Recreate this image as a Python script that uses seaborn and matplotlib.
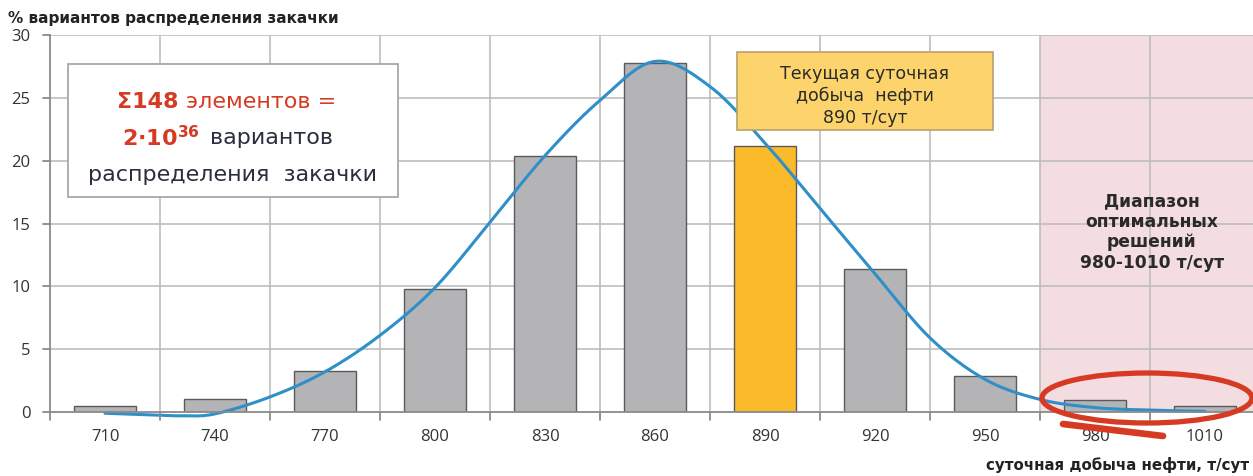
import numpy as np
import matplotlib
matplotlib.use("Agg")
import matplotlib.pyplot as plt
import seaborn as sns
import pandas as pd
from matplotlib.patches import Rectangle, Ellipse

# ---------------- data ----------------
categories = ["710", "740", "770", "800", "830", "860", "890", "920", "950", "980", "1010"]
shares = [0.5, 1.0, 3.3, 9.8, 20.4, 27.8, 21.2, 11.4, 2.9, 0.95, 0.45]
highlight = "890"

# fitted curve (position in category index, value %)
curve_pos = [0, 0.5, 0.7, 1, 1.5, 2, 2.5, 3, 3.5, 4, 4.5, 5, 5.5, 6, 6.5, 7, 7.5, 8, 8.5, 9, 9.5, 10]
curve_val = [-0.1, -0.25, -0.3, -0.15, 1.2, 3.2, 6.1, 9.9, 15.1, 20.4, 24.8, 27.9, 25.9, 21.4, 16.2, 11.0, 5.9, 2.6, 1.0, 0.35, 0.15, 0.05]

yticks = [0, 5, 10, 15, 20, 25, 30]
ylabel = "% вариантов распределения закачки"
xlabel = "суточная добыча нефти, т/сут"
opt_range = (9, 10)  # indices of optimal range categories

# ---------------- style ----------------
sns.set_theme(style="white")
plt.rcParams['font.family'] = ['DejaVu Sans']

GRAY = "#B4B4B7"
ORANGE = "#FBBA2A"
BLUE = "#2F8FC8"
RED = "#D63A22"
DARK = "#2A2F3E"
GRID = "#BDBDBD"

W, H = 1253, 476
fig = plt.figure(figsize=(W / 100, H / 100), dpi=100)
ax = fig.add_axes([50 / W, 1 - 412 / H, 1210 / W, (412 - 35) / H])

df = pd.DataFrame({"cat": categories, "val": shares})
palette = {c: (ORANGE if c == highlight else GRAY) for c in categories}
sns.barplot(data=df, x="cat", y="val", hue="cat", palette=palette, legend=False,
            width=0.57, edgecolor="#5A5A5A", linewidth=1.0, saturation=1, ax=ax, zorder=3)

# pink optimal region
ax.axvspan(opt_range[0] - 0.5, opt_range[1] + 0.6, color="#F3DDE0", zorder=0, lw=0)

# grid
for y in yticks[1:]:
    ax.axhline(y, color=GRID, lw=1.2, zorder=1)
for i in range(len(categories)):
    ax.axvline(i + 0.5, color=GRID, lw=1.2, zorder=1)

# smooth curve through read points (Catmull-Rom for rendering)
p = np.array(curve_pos, float)
v = np.array(curve_val, float)
xs, ys = [], []
for k in range(len(p) - 1):
    p0 = p[k - 1] if k > 0 else p[k]
    v0 = v[k - 1] if k > 0 else v[k]
    p3 = p[k + 2] if k + 2 < len(p) else p[k + 1]
    v3 = v[k + 2] if k + 2 < len(p) else v[k + 1]
    t = np.linspace(0, 1, 20, endpoint=False)
    for a0, a1, a2, a3, lst in ((p0, p[k], p[k + 1], p3, xs), (v0, v[k], v[k + 1], v3, ys)):
        lst.extend(0.5 * ((2 * a1) + (-a0 + a2) * t + (2 * a0 - 5 * a1 + 4 * a2 - a3) * t ** 2
                          + (-a0 + 3 * a1 - 3 * a2 + a3) * t ** 3))
xs.append(p[-1]); ys.append(v[-1])
sns.lineplot(x=xs, y=ys, color=BLUE, lw=2.2, ax=ax, zorder=4, sort=False, clip_on=False)

ax.set_xlim(-0.5, 10.5)
ax.set_ylim(0, 30)
ax.set_yticks(yticks)
ax.set_yticklabels([str(t) for t in yticks], fontsize=12, color="#333333", family="Open Sans")
ax.set_xticks(range(len(categories)))
ax.set_xticklabels(categories, fontsize=12, color="#333333", family="Open Sans")
ax.tick_params(axis="x", length=0, pad=12)
ax.tick_params(axis="y", length=0, pad=14)
ax.set_xlabel("")
ax.set_ylabel("")
for s in ["top", "right"]:
    ax.spines[s].set_visible(False)
for s in ["left", "bottom"]:
    ax.spines[s].set_color("#8A8A8A")
    ax.spines[s].set_linewidth(1.3)
    ax.spines[s].set_zorder(5)

# tick marks: y outward-left, x boundaries downward
trans_y = ax.get_yaxis_transform()
for y in yticks:
    ax.plot([-0.006, 0], [y, y], color="#8A8A8A", lw=1.3, transform=trans_y, clip_on=False, zorder=5)
trans_x = ax.get_xaxis_transform()
for i in range(len(categories)):
    ax.plot([i - 0.5, i - 0.5], [-0.022, 0], color="#8A8A8A", lw=1.3, transform=trans_x, clip_on=False, zorder=5)

# axis labels as figure text
fig.text(8 / W, 1 - 18 / H, ylabel, fontsize=11, fontweight="bold", color="#222222", va="center", ha="left")
fig.text(1249 / W, 1 - 465 / H, xlabel, fontsize=10.8, fontweight="bold", color="#222222", va="center", ha="right")


def px2data(x, y):
    return (x - 105) / 110.0, (412 - y) / 12.567


# white info box
x0, y0 = px2data(68, 197)
x1, y1 = px2data(398, 64)
ax.add_patch(Rectangle((x0, y0), x1 - x0, y1 - y0, facecolor="white", edgecolor="#A8A8A8", lw=1.3, zorder=6))
fig.text(178 / W, 1 - 102 / H, "Σ148", fontsize=16, fontweight="bold", color=RED,
         ha="right", va="center", zorder=7)
fig.text(186 / W, 1 - 102 / H, "элементов =", fontsize=16, color=RED,
         ha="left", va="center", zorder=7)
fig.text(200 / W, 1 - 138 / H, r"$\mathbf{2{\cdot}10^{36}}$", fontsize=16, color=RED,
         ha="right", va="center", zorder=7)
fig.text(210 / W, 1 - 138 / H, "вариантов", fontsize=16, color=DARK, ha="left", va="center", zorder=7)
fig.text(233 / W, 1 - 175 / H, "распределения  закачки", fontsize=16, color=DARK,
         ha="center", va="center", zorder=7)

# orange info box
x0, y0 = px2data(737, 130)
x1, y1 = px2data(993, 52)
ax.add_patch(Rectangle((x0, y0), x1 - x0, y1 - y0, facecolor="#FCD46B", edgecolor="#B8A170", lw=1.2, zorder=6))
fig.text(865 / W, 1 - 96 / H, "Текущая суточная\nдобыча  нефти\n890 т/сут", fontsize=12.5, color="#2A2A2A",
         ha="center", va="center", linespacing=1.25, zorder=7)

# optimal range label
fig.text(1152 / W, 1 - 232 / H, "Диапазон\nоптимальных\nрешений\n980-1010 т/сут", fontsize=12.3,
         fontweight="bold", color="#2A2A2A", ha="center", va="center", linespacing=1.2, zorder=7)

# red ellipse highlight
ex, ey = px2data(1147, 398)
ax.add_patch(Ellipse((ex, ey), 210 / 110.0, 50 / 12.567, angle=0, fill=False, edgecolor=RED, lw=3.8,
                     zorder=8, clip_on=False))
tx0, ty0 = px2data(1063, 424)
tx1, ty1 = px2data(1163, 436)
ax.plot([tx0, tx1], [ty0, ty1], color=RED, lw=4.8, solid_capstyle="round", clip_on=False, zorder=8)

fig.savefig("out.png", dpi=100)
